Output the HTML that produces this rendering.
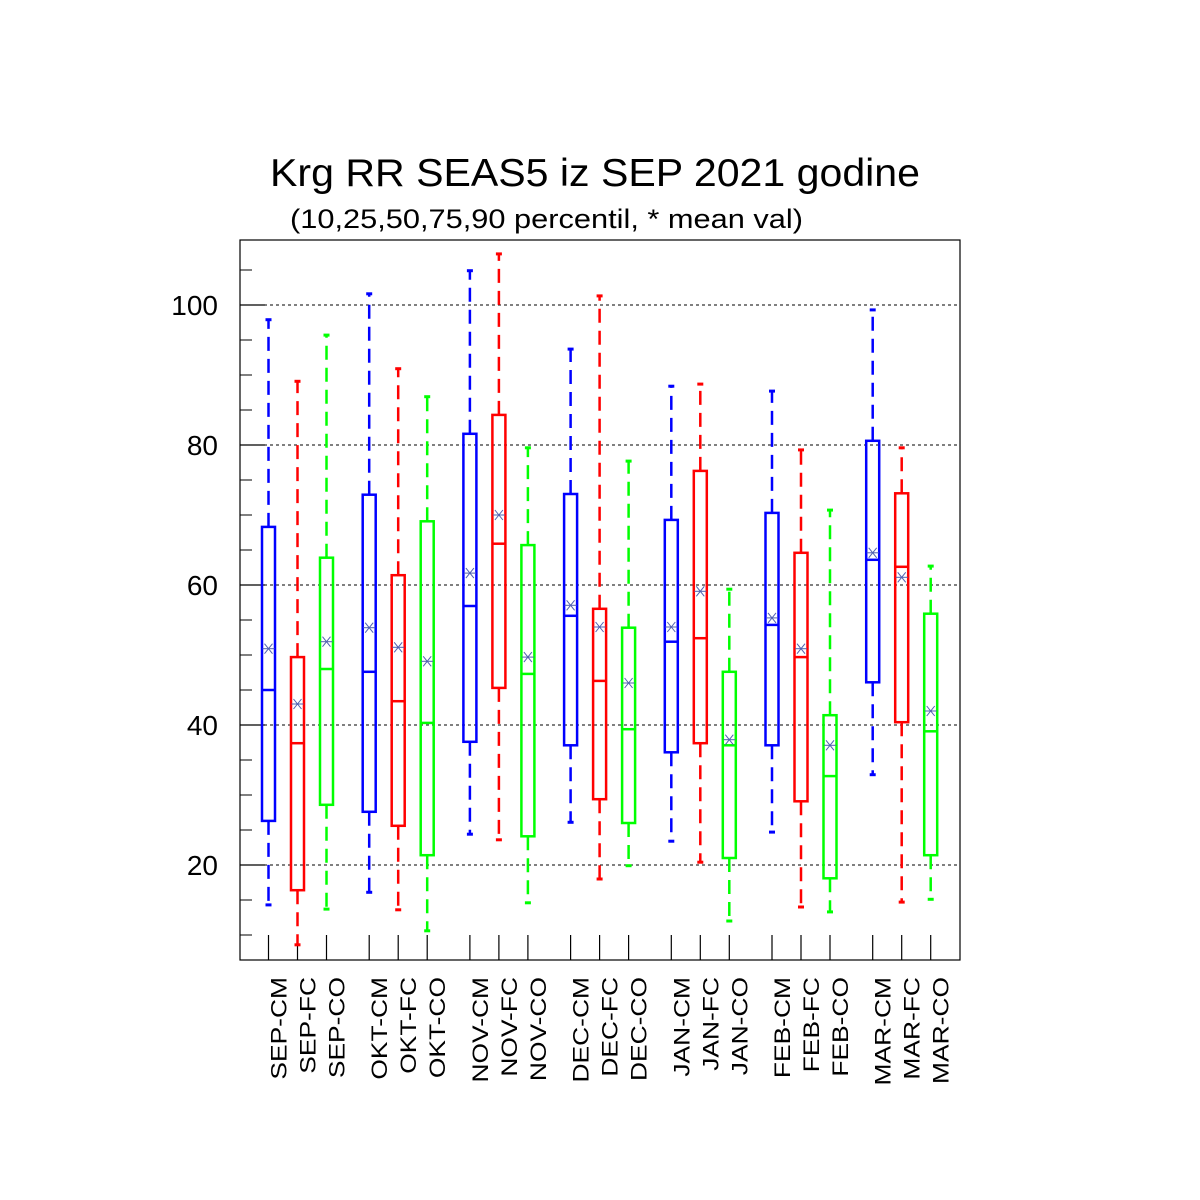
<!DOCTYPE html>
<html><head><meta charset="utf-8"><style>
html,body{margin:0;padding:0;background:#fff;}
svg{display:block;font-family:"Liberation Sans",sans-serif;}
</style></head><body>
<svg id="chart" width="1200" height="1200" viewBox="0 0 1200 1200">
<text x="270" y="186" font-size="39" textLength="650" lengthAdjust="spacingAndGlyphs">Krg RR SEAS5 iz SEP 2021 godine</text>
<text x="290" y="228" font-size="27" textLength="513" lengthAdjust="spacingAndGlyphs">(10,25,50,75,90 percentil, * mean val)</text>
<g id="grid"></g>
<g id="axes"></g>
<g id="boxes"></g>
<rect x="240" y="240" width="720" height="720" fill="none" stroke="#000" stroke-width="1.2"/>
</svg>
<script>
const categories = ["SEP-CM","SEP-FC","SEP-CO","OKT-CM","OKT-FC","OKT-CO","NOV-CM","NOV-FC","NOV-CO","DEC-CM","DEC-FC","DEC-CO","JAN-CM","JAN-FC","JAN-CO","FEB-CM","FEB-FC","FEB-CO","MAR-CM","MAR-FC","MAR-CO"];
const p10 = [14.3,8.6,13.7,16.1,13.6,10.6,24.4,23.6,14.6,26.1,18.0,19.9,23.4,20.4,12.0,24.7,14.0,13.3,32.9,14.7,15.1];
const p25 = [26.3,16.4,28.6,27.6,25.6,21.4,37.6,45.3,24.1,37.1,29.4,26.0,36.1,37.4,21.0,37.1,29.1,18.1,46.1,40.4,21.4];
const p50 = [45.0,37.4,48.0,47.6,43.4,40.3,57.0,65.9,47.3,55.6,46.3,39.4,51.9,52.4,37.1,54.3,49.7,32.7,63.6,62.6,39.1];
const p75 = [68.3,49.7,63.9,72.9,61.4,69.1,81.6,84.3,65.7,73.0,56.6,53.9,69.3,76.3,47.6,70.3,64.6,41.4,80.6,73.1,55.9];
const p90 = [97.9,89.1,95.7,101.6,90.9,86.9,104.9,107.3,79.6,93.7,101.3,77.7,88.4,88.7,59.4,87.7,79.3,70.7,99.3,79.6,62.7];
const means = [50.9,43.0,51.9,53.9,51.1,49.1,61.7,70.0,49.7,57.1,54.0,46.0,54.0,59.1,37.9,55.3,50.9,37.1,64.6,61.1,42.0];
const yTicks = [20,40,60,80,100];
const colors = ["#0000ff","#ff0000","#00ff00"];

const NS="http://www.w3.org/2000/svg";
function yS(v){return 1005-7*v;}
function xS(i){const g=Math.floor(i/3),k=i%3;return 268.5+g*100.7+k*29;}
function mk(tag,attrs,parent){const e=document.createElementNS(NS,tag);for(const k in attrs)e.setAttribute(k,attrs[k]);parent.appendChild(e);return e;}
const grid=document.getElementById('grid'),axes=document.getElementById('axes'),boxes=document.getElementById('boxes');

yTicks.forEach(t=>{
  const g=mk('line',{x1:240,x2:960,y1:yS(t),y2:yS(t),stroke:'#000','stroke-width':1,'stroke-dasharray':'3,3'},grid);
  
  
  const tk=mk('line',{x1:240,x2:265,y1:yS(t),y2:yS(t),stroke:'#000','stroke-width':1.2},axes);
  
  
  const lb=mk('text',{x:218,y:yS(t)+10,'font-size':28,'text-anchor':'end'},axes);
  lb.textContent=t;
  
  
});
for(let v=10;v<=105;v+=5){
  if(v%20===0)continue;
  const tk=mk('line',{x1:240,x2:252,y1:yS(v),y2:yS(v),stroke:'#000','stroke-width':1},axes);
  
  
}
categories.forEach((c,i)=>{
  const x=xS(i),col=colors[i%3];
  const tk=mk('line',{x1:x,x2:x,y1:935,y2:960,stroke:'#000','stroke-width':1.2},axes);
  
  
  const lb=mk('text',{x:0,y:0,'font-size':22,'text-anchor':'end',transform:`translate(${x+18},977) rotate(-90) scale(1.2,1)`},axes);
  lb.textContent=c;
  
  
  const g=mk('g',{},boxes);
  
  
  const dash={stroke:col,'stroke-width':2.5,'stroke-dasharray':'14,8'};
  mk('line',Object.assign({x1:x,x2:x,y1:yS(p75[i]),y2:yS(p90[i])},dash),g);
  mk('line',Object.assign({x1:x,x2:x,y1:yS(p25[i]),y2:yS(p10[i])},dash),g);
  mk('line',{x1:x-3,x2:x+3,y1:yS(p90[i]),y2:yS(p90[i]),stroke:col,'stroke-width':3},g);
  mk('line',{x1:x-3,x2:x+3,y1:yS(p10[i]),y2:yS(p10[i]),stroke:col,'stroke-width':3},g);
  mk('rect',{x:x-6.5,y:yS(p75[i]),width:13,height:yS(p25[i])-yS(p75[i]),fill:'none',stroke:col,'stroke-width':2.5},g);
  mk('line',{x1:x-6.5,x2:x+6.5,y1:yS(p50[i]),y2:yS(p50[i]),stroke:col,'stroke-width':2.5},g);
  const my=yS(means[i]);
  const m=mk('g',{stroke:'#5060b0','stroke-width':1},g);
  
  
  mk('line',{x1:x-6,x2:x+6,y1:my,y2:my},m);
  mk('line',{x1:x-4,x2:x+4,y1:my-5,y2:my+5},m);
  mk('line',{x1:x-4,x2:x+4,y1:my+5,y2:my-5},m);
});
</script>
</body></html>
